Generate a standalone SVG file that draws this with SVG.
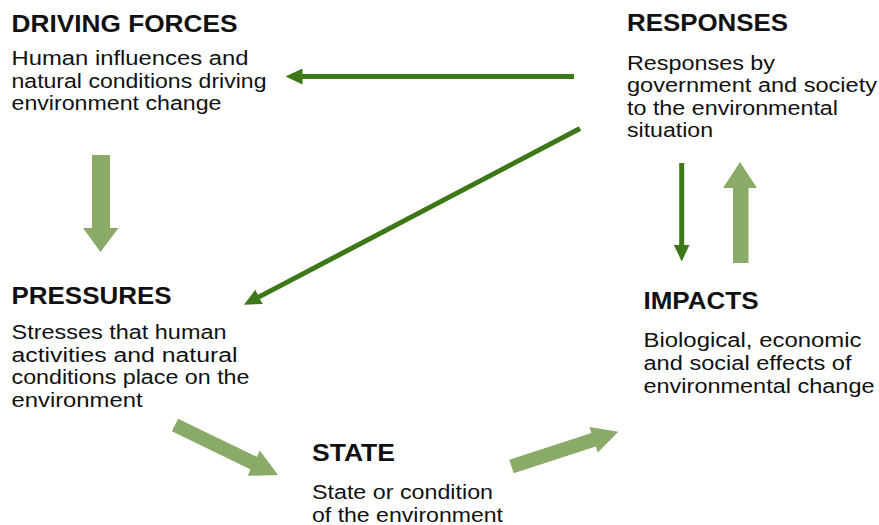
<svg xmlns="http://www.w3.org/2000/svg" width="879" height="525" viewBox="0 0 879 525">
<style>
.t{font-family:"Liberation Sans",Arial,sans-serif;font-weight:bold;font-size:23px;fill:#111}
.b{font-family:"Liberation Sans",Arial,sans-serif;font-size:20px;fill:#111}
.dk{stroke:#3d7818;stroke-width:5;fill:none;marker-end:url(#ah)}
.lt{fill:#8aaa68}
</style>
<defs>
<marker id="ah" markerUnits="userSpaceOnUse" viewBox="0 0 17 16" refX="0.5" refY="8" markerWidth="17" markerHeight="16" orient="auto">
<path d="M0,0 L17,8 L0,16 z" fill="#3d7818"/>
</marker>
</defs>
<rect width="879" height="525" fill="#fff"/>
<g id="connectors">
<line class="dk" x1="574" y1="76.5" x2="302" y2="76.5"/>
<line class="dk" x1="580" y1="128.5" x2="258.6" y2="297.1"/>
<line class="dk" x1="681.7" y1="163" x2="681.7" y2="245"/>
<polygon class="lt" points="92,155 110,155 110,228 118.5,228 100.5,252 83,228 92,228"/>
<polygon class="lt" points="733,263 748.5,263 748.5,188 757,188 740,162 723,188 733,188"/>
<polygon class="lt" points="178.1,418.7 256.8,456.9 259.8,450.6 278,475 247.6,475.8 250.6,469.5 171.9,431.3"/>
<polygon class="lt" points="509.3,459.8 591.4,433.1 589.4,427 618.3,431.7 597.8,452.6 595.8,446.5 513.7,473.2"/>
</g>
<g id="driving-forces">
<text class="t" x="11.5" y="31.5" textLength="226" lengthAdjust="spacingAndGlyphs">DRIVING FORCES</text>
<text class="b" x="11.5" y="65" textLength="237" lengthAdjust="spacingAndGlyphs">Human influences and</text>
<text class="b" x="11.5" y="87.5" textLength="255" lengthAdjust="spacingAndGlyphs">natural conditions driving</text>
<text class="b" x="11.5" y="110" textLength="210" lengthAdjust="spacingAndGlyphs">environment change</text>
</g>
<g id="responses">
<text class="t" x="627" y="30.5" textLength="161" lengthAdjust="spacingAndGlyphs">RESPONSES</text>
<text class="b" x="627" y="69.5" textLength="148" lengthAdjust="spacingAndGlyphs">Responses by</text>
<text class="b" x="627" y="92" textLength="250" lengthAdjust="spacingAndGlyphs">government and society</text>
<text class="b" x="627" y="114.5" textLength="211" lengthAdjust="spacingAndGlyphs">to the environmental</text>
<text class="b" x="627" y="137" textLength="86" lengthAdjust="spacingAndGlyphs">situation</text>
</g>
<g id="pressures">
<text class="t" x="11.5" y="303.5" textLength="160" lengthAdjust="spacingAndGlyphs">PRESSURES</text>
<text class="b" x="11.5" y="338.5" textLength="215" lengthAdjust="spacingAndGlyphs">Stresses that human</text>
<text class="b" x="11.5" y="361.5" textLength="226" lengthAdjust="spacingAndGlyphs">activities and natural</text>
<text class="b" x="11.5" y="384" textLength="238" lengthAdjust="spacingAndGlyphs">conditions place on the</text>
<text class="b" x="11.5" y="406.5" textLength="131" lengthAdjust="spacingAndGlyphs">environment</text>
</g>
<g id="state">
<text class="t" x="312" y="461" textLength="83" lengthAdjust="spacingAndGlyphs">STATE</text>
<text class="b" x="312" y="498.5" textLength="181" lengthAdjust="spacingAndGlyphs">State or condition</text>
<text class="b" x="312" y="521.5" textLength="191" lengthAdjust="spacingAndGlyphs">of the environment</text>
</g>
<g id="impacts">
<text class="t" x="643.5" y="308.5" textLength="115" lengthAdjust="spacingAndGlyphs">IMPACTS</text>
<text class="b" x="643.5" y="346.5" textLength="218" lengthAdjust="spacingAndGlyphs">Biological, economic</text>
<text class="b" x="643.5" y="369.5" textLength="208" lengthAdjust="spacingAndGlyphs">and social effects of</text>
<text class="b" x="643.5" y="392.5" textLength="231" lengthAdjust="spacingAndGlyphs">environmental change</text>
</g>
</svg>
